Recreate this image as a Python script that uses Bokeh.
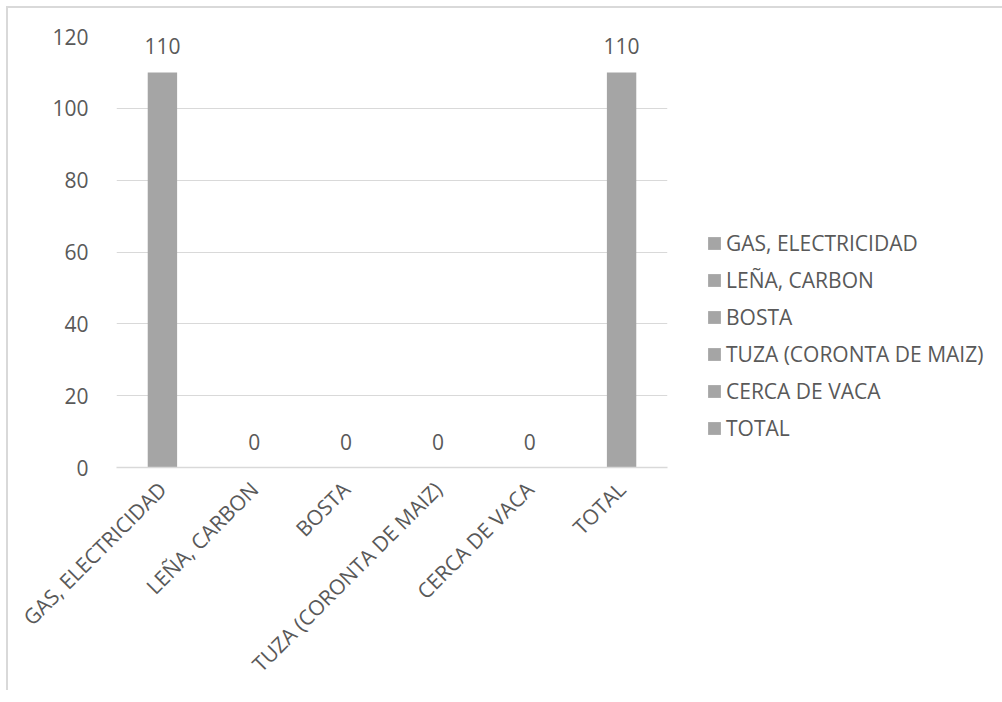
from bokeh.plotting import figure
from bokeh.models import ColumnDataSource, Legend, LegendItem, FactorRange, Range1d, LabelSet, SingleIntervalTicker
from bokeh.core.properties import value
from bokeh.embed import file_html
from bokeh.resources import INLINE
from math import pi

categories = ["GAS, ELECTRICIDAD", "LEÑA, CARBON", "BOSTA", "TUZA (CORONTA DE MAIZ)", "CERCA DE VACA", "TOTAL"]
values = [110, 0, 0, 0, 0, 110]
labels = [str(v) for v in values]

FONT = "Open Sans"
FS = "21px"
TXT = "#595959"
GRID = "#D9D9D9"
BAR = "#A5A5A5"

src = ColumnDataSource(dict(cat=categories, val=values, lab=labels))

p = figure(x_range=FactorRange(*categories, range_padding=0), y_range=Range1d(0, 120),
           frame_width=551, frame_height=431, output_backend="svg", toolbar_location=None,
           min_border_left=108, min_border_top=28, min_border_bottom=220, min_border_right=0)
p.outline_line_color = None
p.background_fill_color = "white"

r = p.vbar(x="cat", top="val", width=0.32, source=src, fill_color=BAR, line_color=None)

p.yaxis.ticker = SingleIntervalTicker(interval=20)
p.yaxis.axis_line_color = None
p.yaxis.major_tick_line_color = None
p.yaxis.minor_tick_line_color = None
p.yaxis.major_label_text_font = FONT
p.yaxis.major_label_text_font_size = FS
p.yaxis.major_label_text_color = TXT
p.yaxis.major_label_standoff = 22

p.xaxis.axis_line_color = GRID
p.xaxis.axis_line_width = 1.5
p.xaxis.major_tick_line_color = None
p.xaxis.minor_tick_line_color = None
p.xaxis.major_label_orientation = pi / 4
p.xaxis.major_label_text_font = FONT
p.xaxis.major_label_text_font_size = FS
p.xaxis.major_label_text_color = TXT
p.xaxis.major_label_standoff = 12

p.xgrid.grid_line_color = None
p.ygrid.grid_line_color = GRID
p.ygrid.grid_line_width = 1.2

lbl = LabelSet(x="cat", y="val", text="lab", source=src, text_align="center", text_baseline="alphabetic",
               y_offset=18, text_font=value(FONT), text_font_size=value(FS), text_color=TXT)
p.add_layout(lbl)

items = []
for i, c in enumerate(categories):
    items.append(LegendItem(label=c, renderers=[r], index=i))
legend = Legend(items=items, location=(39, 25), border_line_color=None, background_fill_alpha=0,
                label_text_font=FONT, label_text_font_size=FS, label_text_color=TXT,
                glyph_width=16, glyph_height=16, label_height=20, spacing=9, padding=0, margin=0,
                label_standoff=4)
p.add_layout(legend, "right")

p.styles = {"border-top": "2px solid #D9D9D9", "border-left": "2px solid #D9D9D9",
            "margin-top": "6px", "margin-left": "6px"}

open("out.html", "w").write(file_html(p, INLINE))
